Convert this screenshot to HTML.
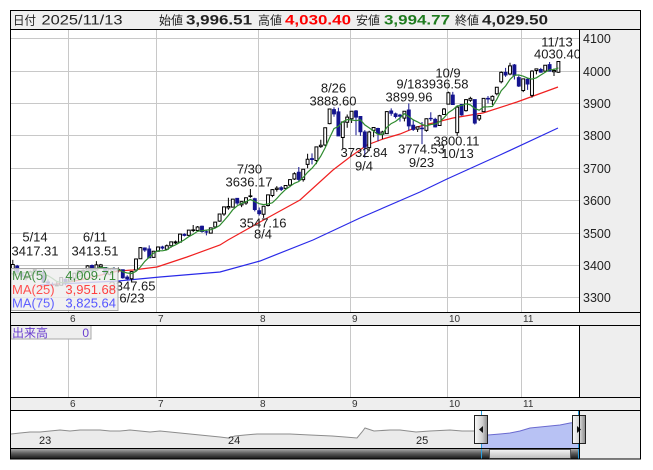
<!DOCTYPE html>
<html><head><meta charset="utf-8">
<style>
html,body{margin:0;padding:0;background:#fff;}
svg{display:block;font-family:"Liberation Sans","Noto Sans CJK JP",sans-serif;}
</style></head>
<body>
<svg width="653" height="470" viewBox="0 0 653 470" xmlns="http://www.w3.org/2000/svg">
<defs>
<clipPath id="cp"><rect x="11" y="30" width="568" height="282"/></clipPath>
<clipPath id="cpn"><rect x="11" y="411" width="568" height="37"/></clipPath>
<linearGradient id="sb" x1="0" y1="0" x2="0" y2="1"><stop offset="0" stop-color="#a8a8a8"/><stop offset="0.45" stop-color="#5a5a5a"/><stop offset="1" stop-color="#151515"/></linearGradient>
<linearGradient id="th" x1="0" y1="0" x2="0" y2="1"><stop offset="0" stop-color="#f6f6f6"/><stop offset="1" stop-color="#bcbcbc"/></linearGradient>
<linearGradient id="hd" x1="0" y1="0" x2="1" y2="0"><stop offset="0" stop-color="#fafafa"/><stop offset="0.6" stop-color="#d0d0d0"/><stop offset="1" stop-color="#8a8a8a"/></linearGradient>
</defs>

<!-- backgrounds -->
<rect x="10" y="10" width="631" height="449" fill="#fff"/>
<rect x="10" y="10" width="631" height="20" fill="#efefef"/>
<rect x="579" y="29" width="62" height="284" fill="#eeeeee"/>
<rect x="579" y="325" width="62" height="73" fill="#eeeeee"/>
<rect x="10" y="312" width="631" height="13" fill="#eeeeee"/>
<rect x="10" y="397" width="631" height="13" fill="#eeeeee"/>
<rect x="579" y="410" width="62" height="49" fill="#eeeeee"/>

<!-- grid -->
<g stroke="#c8c8c8" stroke-width="1">
<path d="M11 38.5H579M11 71.5H579M11 103.5H579M11 135.5H579M11 168.5H579M11 200.5H579M11 233.5H579M11 265.5H579M11 297.5H579"/>
<path d="M68.5 30V312M156.5 30V312M258.5 30V312M350.5 30V312M447.5 30V312M521.5 30V312"/>
<path d="M68.5 326V397M156.5 326V397M258.5 326V397M350.5 326V397M447.5 326V397M521.5 326V397"/>
</g>

<g clip-path="url(#cp)">
<!-- MA75 / MA25 -->
<polyline fill="none" stroke="#2a2ae8" stroke-width="1.2" points="40,285 118,281 160,277 220,272 260,261 313,240 360,218 420,192 447,179 500,155 558,128"/>
<polyline fill="none" stroke="#f02020" stroke-width="1.2" points="40,287 80,280 118,271 133,270 157,267 187,257 220,245 228,240 260,222 300,200 333,170 350,157 367,145 383,139 400,134 417,127 453,118 483,113 517,102 558,87"/>

<g transform="matrix(4.4 0 0 -0.324 70 1367.1)">
<path fill="none" stroke="#000" stroke-width="1" vector-effect="non-scaling-stroke" d="M-13 3372V3417.31M-10 3354V3370M-9 3366V3384M-8 3380V3391M-3 3336V3349M-2 3338V3364M0 3350V3365M1 3359V3378M2 3372V3386M3 3378V3388M4 3384V3401M6 3385V3413.51M7 3393V3405M9 3370V3389M11 3378V3394M14 3347.65V3383M15 3386V3422M16 3420V3457M19 3424V3445M20 3443V3459M22 3449V3465M23 3455V3474M24 3466V3477M25 3471V3497M27 3491V3510M28 3503V3525M29 3506V3522M32 3499V3517M33 3518V3535M34 3535V3560M35 3553V3582M36 3572V3609M37 3580V3605M39 3580V3598M40 3587V3609M41 3609V3636.17M44 3547.16V3584M45 3582V3618M46 3611V3636M47 3628V3645M49 3636V3648M50 3642V3666M51 3664V3688M53 3659V3697M54 3700V3745M56 3713V3767M57 3763V3788M58 3768V3826M59 3836V3884M62 3761V3845M63 3825V3866M64 3840V3876M68 3753V3816M69 3796V3826M71 3790V3816M72 3806V3876M76 3845V3877M79 3812V3829M81 3813V3854M84 3831V3865M85 3865V3886M86 3897V3936.58M88 3800.11V3892M90 3875V3913M91 3905V3921M93 3846V3864M94 3874V3917M96 3895V3925M97 3925V3951M98 3962V3999M100 3987V4025.7M103 3935V3977M105 3918V4003M106 3990V4008M108 3998V4019M110 3985V4008M111 3994.77V4030.4"/>
<path fill="#fff" stroke="#000" stroke-width="1" vector-effect="non-scaling-stroke" d="M-13.33 3374H-12.67V3403H-13.33ZM-10.33 3361H-9.67V3367H-10.33ZM-9.33 3369H-8.67V3381H-9.33ZM-8.33 3383H-7.67V3388H-8.33ZM-3.33 3337H-2.67V3339H-3.33ZM-2.33 3339H-1.67V3363H-2.33ZM-.33 3352H.33V3361H-.33ZM.67 3361H1.33V3376H.67ZM1.67 3376H2.33V3384H1.67ZM2.67 3381H3.33V3385H2.67ZM3.67 3386H4.33V3399H3.67ZM5.67 3386H6.33V3402H5.67ZM6.67 3396H7.33V3402H6.67ZM8.67 3373H9.33V3388H8.67ZM10.67 3386H11.33V3388H10.67ZM13.67 3359H14.33V3381H13.67ZM14.67 3386H15.33V3420H14.67ZM15.67 3421H16.33V3455H15.67ZM18.67 3425H19.33V3444H18.67ZM19.67 3444H20.33V3457H19.67ZM21.67 3450H22.33V3461H21.67ZM22.67 3461H23.33V3473H22.67ZM23.67 3470H24.33V3473H23.67ZM24.67 3472H25.33V3497H24.67ZM26.67 3493H27.33V3509H26.67ZM27.67 3508H28.33V3510H27.67ZM28.67 3508H29.33V3519H28.67ZM31.67 3500H32.33V3516H31.67ZM32.67 3519H33.33V3534H32.67ZM33.67 3537H34.33V3559H33.67ZM34.67 3559H35.33V3581H34.67ZM35.67 3578H36.33V3582H35.67ZM36.67 3580H37.33V3605H36.67ZM38.67 3587H39.33V3597H38.67ZM39.67 3593H40.33V3609H39.67ZM40.67 3613H41.33V3615H40.67ZM43.67 3558H44.33V3583H43.67ZM44.67 3585H45.33V3618H44.67ZM45.67 3616H46.33V3634H45.67ZM46.67 3635H47.33V3639H46.67ZM48.67 3638H49.33V3647H48.67ZM49.67 3648H50.33V3665H49.67ZM50.67 3667H51.33V3683H50.67ZM52.67 3665H53.33V3697H52.67ZM53.67 3712H54.33V3728H53.67ZM55.67 3724H56.33V3766H55.67ZM56.67 3767H57.33V3771H56.67ZM57.67 3772H58.33V3825H57.67ZM58.67 3838H59.33V3883H58.67ZM61.67 3795H62.33V3843H61.67ZM62.67 3842H63.33V3858H62.67ZM63.67 3853H64.33V3876H63.67ZM67.67 3764H68.33V3812H67.67ZM68.67 3817H69.33V3826H68.67ZM70.67 3805H71.33V3812H70.67ZM71.67 3807H72.33V3875H71.67ZM75.67 3855H76.33V3876H75.67ZM78.67 3821H79.33V3828H78.67ZM80.67 3817H81.33V3853H80.67ZM83.67 3832H84.33V3862H83.67ZM84.67 3866H85.33V3883H84.67ZM85.67 3898H86.33V3933H85.67ZM87.67 3810H88.33V3889H87.67ZM89.67 3878H90.33V3912H89.67ZM90.67 3910H91.33V3916H90.67ZM92.67 3852H93.33V3863H92.67ZM93.67 3875H94.33V3916H93.67ZM95.67 3910H96.33V3922H95.67ZM96.67 3930H97.33V3950H96.67ZM97.67 3967H98.33V3996H97.67ZM99.67 3991H100.33V4016H99.67ZM102.67 3940H103.33V3976H102.67ZM104.67 3925H105.33V4000H104.67ZM105.67 4002H106.33V4007H105.67ZM107.67 4000H108.33V4018H107.67ZM109.67 3998H110.33V4002H109.67ZM110.67 3996.51H111.33V4029.5H110.67Z"/>
<path fill="none" stroke="#14148f" stroke-width="1" vector-effect="non-scaling-stroke" d="M-12 3374V3402M-11 3361V3383M-7 3370V3387M-6 3347V3392M-5 3342V3357M-4 3330V3348M-1 3339V3361M5 3368V3403M8 3370V3394M10 3384V3395M12 3359V3387M13 3355V3370M17 3442V3456M18 3423V3462M21 3449V3461M26 3490V3499M30 3501V3523M31 3493V3510M38 3587V3608M42 3567V3609M43 3554V3579M48 3630V3645M52 3660V3704M55 3712V3746M60 3859V3888.6M61 3800V3887M65 3802V3880M66 3800V3861M67 3732.84V3818M70 3783V3825M73 3862V3885M74 3854V3872M75 3844V3868M77 3817V3899.96M78 3815V3848M80 3774.53V3843M82 3846V3873M83 3826V3856M87 3896V3936M89 3862V3898M92 3835V3912M95 3900V3923M99 3982V4010M101 3974V4022M102 3951V3986M104 3942V3979M107 3995V4010M109 3999V4028"/>
<path fill="#14148f" stroke="#14148f" stroke-width="1" vector-effect="non-scaling-stroke" d="M-12.33 3398H-11.67V3380H-12.33ZM-11.33 3378H-10.67V3367H-11.33ZM-7.33 3383H-6.67V3380H-7.33ZM-6.33 3378H-5.67V3348H-6.33ZM-5.33 3349H-4.67V3346H-5.33ZM-4.33 3341H-3.67V3340H-4.33ZM-1.33 3357H-.67V3347H-1.33ZM4.67 3400H5.33V3384H4.67ZM7.67 3394H8.33V3377H7.67ZM9.67 3390H10.33V3387H9.67ZM11.67 3387H12.33V3362H11.67ZM12.67 3364H13.33V3359H12.67ZM16.67 3454H17.33V3448H16.67ZM17.67 3451H18.33V3424H17.67ZM20.67 3457H21.33V3454H20.67ZM25.67 3496H26.33V3493H25.67ZM29.67 3521H30.33V3505H29.67ZM30.67 3504H31.33V3503H30.67ZM37.67 3607H38.33V3593H37.67ZM41.67 3606H42.33V3573H41.67ZM42.67 3569H43.33V3560H42.67ZM47.67 3640H48.33V3635H47.67ZM51.67 3688H52.33V3666H51.67ZM54.67 3730H55.33V3727H54.67ZM59.67 3881H60.33V3868H59.67ZM60.67 3874H61.33V3800H60.67ZM64.67 3877H65.33V3858H64.67ZM65.67 3860H66.33V3813H65.67ZM66.67 3812H67.33V3765H66.67ZM69.67 3823H70.33V3807H69.67ZM72.67 3877H73.33V3870H72.67ZM73.67 3868H74.33V3860H73.67ZM74.67 3864H75.33V3861H74.67ZM76.67 3880H77.33V3831H76.67ZM77.67 3833H78.33V3820H77.67ZM79.67 3824H80.33V3822H79.67ZM81.67 3854H82.33V3853H81.67ZM82.67 3851H83.33V3828H82.67ZM86.67 3926H87.33V3897H86.67ZM88.67 3897H89.33V3865H88.67ZM91.67 3912H92.33V3840H91.67ZM94.67 3916H95.33V3914H94.67ZM98.67 3996H99.33V3988H98.67ZM100.67 4019H101.33V3987H100.67ZM101.67 3980H102.33V3954H101.67ZM103.67 3975H104.33V3960H103.67ZM106.67 4005H107.33V3997H106.67ZM108.67 4020H109.33V4000H108.67Z"/>
<polyline fill="none" stroke="#2e8b2e" stroke-width="1.2" vector-effect="non-scaling-stroke" points="-13,3368 -12,3373.6 -11,3378.6 -10,3378.2 -9,3379.6 -8,3376.6 -7,3376.6 -6,3372.8 -5,3368.6 -4,3360.4 -3,3350.6 -2,3347.2 -1,3347 0,3350 1,3357.2 2,3366.2 3,3370.6 4,3381 5,3385.6 6,3390.8 7,3394.4 8,3392.8 9,3390.6 10,3391.2 11,3388.4 12,3380.4 13,3376.8 14,3375.4 15,3382 16,3395.4 17,3412.6 18,3425.6 19,3438.2 20,3445.6 21,3445.4 22,3448 23,3457.8 24,3463.6 25,3471.6 26,3479.4 27,3489 28,3496.4 29,3505.6 30,3507.2 31,3509.2 32,3510.6 33,3515.4 34,3523.4 35,3538.6 36,3554.4 37,3572.2 38,3584 39,3591.6 40,3597.2 41,3603.8 42,3597.4 43,3590.8 44,3588 45,3589.8 46,3593.6 47,3606.8 48,3621.8 49,3634.6 50,3644 51,3653.8 52,3659.2 53,3671.6 54,3687.8 55,3700.2 56,3716.8 57,3737.8 58,3763.4 59,3794.4 60,3822.6 61,3829.4 62,3843.8 63,3850.4 64,3849 65,3847 66,3849.6 67,3834 68,3824.8 69,3814.8 70,3804.6 71,3804.4 72,3826.4 73,3838 74,3844.8 75,3855.6 76,3868.4 77,3859.6 78,3849.6 79,3843.2 80,3835.4 81,3830.8 82,3835.2 83,3836.8 84,3843.6 85,3855.8 86,3871.8 87,3880.6 88,3892.8 89,3893.4 90,3899.2 91,3895.8 92,3884.4 93,3879.2 94,3889.4 95,3889.8 96,3891 97,3913 98,3939.6 99,3954 100,3974.4 101,3987.4 102,3988.2 103,3984.2 104,3978.6 105,3975.4 106,3979.4 107,3988 108,3996.4 109,4004.4 110,4004.8 111,4009.7"/>
</g>

<!-- annotations -->
<g font-size="13" fill="#1a1a1a" text-anchor="middle">
<text x="35" y="241.5">5/14</text><text x="35" y="255.5">3417.31</text>
<text x="95" y="241.5">6/11</text><text x="95" y="255.5">3413.51</text>
<text x="132" y="290.5">3347.65</text><text x="132" y="302.5">6/23</text>
<text x="249.5" y="173.5">7/30</text><text x="249" y="186.5">3636.17</text>
<text x="263" y="227.5">3547.16</text><text x="263" y="238.5">8/4</text>
<text x="333.5" y="92.5">8/26</text><text x="333" y="105.5">3888.60</text>
<text x="364" y="157">3732.84</text><text x="364" y="170.5">9/4</text>
<text x="409" y="88.5">9/18</text><text x="409" y="101.5">3899.96</text>
<text x="448" y="77.5">10/9</text><text x="445" y="88.5">3936.58</text>
<text x="421.5" y="153.5">3774.53</text><text x="421.5" y="167">9/23</text>
<text x="456.5" y="145.5">3800.11</text><text x="457.5" y="158">10/13</text>
<text x="557" y="46.5">11/13</text><text x="557.5" y="58.5">4030.40</text>
</g>
</g>

<!-- MA legend -->
<rect x="11" y="268.5" width="107" height="42" fill="#eeeeee" fill-opacity="0.82" stroke="#a8a8a8" stroke-width="1"/>
<g font-size="13">
<text x="12" y="280" fill="#4a904a">MA(5)</text><text x="116" y="280" fill="#3a8a3a" text-anchor="end">4,009.71</text>
<text x="12" y="294" fill="#ff5050">MA(25)</text><text x="116" y="294" fill="#ff4040" text-anchor="end">3,951.68</text>
<text x="12" y="307.5" fill="#6060ff">MA(75)</text><text x="116" y="307.5" fill="#5555ff" text-anchor="end">3,825.64</text>
</g>

<!-- volume label -->
<rect x="11" y="325.5" width="80" height="13.5" fill="#eeeeee" stroke="#a8a8a8" stroke-width="1"/>
<text x="12" y="337" font-size="12" fill="#6a3fd0">出来高</text>
<text x="89" y="337" font-size="12" fill="#6a3fd0" text-anchor="end">0</text>

<!-- right axis labels -->
<g font-size="12.5" fill="#222">
<text x="583" y="43">4100</text><text x="583" y="76">4000</text><text x="583" y="108">3900</text>
<text x="583" y="140">3800</text><text x="583" y="173">3700</text><text x="583" y="205">3600</text>
<text x="583" y="238">3500</text><text x="583" y="270">3400</text><text x="583" y="302">3300</text>
</g>

<!-- date strips -->
<g font-size="10" fill="#333">
<text x="70" y="322">6</text><text x="158" y="322">7</text><text x="260" y="322">8</text><text x="352" y="322">9</text><text x="449" y="322">10</text><text x="523" y="322">11</text>
<text x="70" y="407">6</text><text x="158" y="407">7</text><text x="260" y="407">8</text><text x="352" y="407">9</text><text x="449" y="407">10</text><text x="523" y="407">11</text>
</g>

<!-- navigator -->
<g clip-path="url(#cpn)">
<path fill="#ebebeb" stroke="none" d="M11 434L20 433L30 432L40 432L50 431L60 430L70 431L80 430L90 430L100 430L110 431L120 431L130 430L140 431L150 432L160 431L170 432L180 433L190 434L200 435L210 436L220 437L228 438L235 436L245 435L257 434L270 434L290 434L310 435L332 436L345 437L357 438L362 432L365 428L368 429L374 431L390 430L400 430L416 432L430 431L450 430L462 431L474 431L481 432L481 448L11 448Z"/>
<polyline fill="none" stroke="#8c8c8c" stroke-width="1" points="11,434 20,433 30,432 40,432 50,431 60,430 70,431 80,430 90,430 100,430 110,431 120,431 130,430 140,431 150,432 160,431 170,432 180,433 190,434 200,435 210,436 220,437 228,438 235,436 245,435 257,434 270,434 290,434 310,435 332,436 345,437 357,438 362,432 365,428 368,429 374,431 390,430 400,430 416,432 430,431 450,430 462,431 474,431 481,432"/>
<path fill="#b8c2f4" stroke="none" d="M481 435L488 435L500 434L510 433L520 431L530 428L540 427L550 426L560 425L570 423L579 422L579 448L481 448Z"/>
<polyline fill="none" stroke="#6a6ad0" stroke-width="1" points="481,435 488,435 500,434 510,433 520,431 530,428 540,427 550,426 560,425 570,423 579,422"/>
</g>
<g font-size="11" fill="#222">
<text x="39" y="444">23</text><text x="228" y="444">24</text><text x="416" y="444">25</text>
</g>

<!-- scrollbar -->
<rect x="11" y="449" width="568" height="10" fill="url(#sb)"/>
<rect x="489.5" y="449.5" width="81" height="9" fill="url(#th)" stroke="#555" stroke-width="1"/>

<!-- selection lines -->
<path d="M481.5 410V459M578.5 410V459" stroke="#2aa0e0" stroke-width="1"/>

<!-- handles -->
<rect x="474.5" y="415.5" width="13" height="28" fill="url(#hd)" stroke="#222" stroke-width="1"/>
<polygon points="479,429.5 483,426 483,433" fill="#111"/>
<rect x="572.5" y="415.5" width="13" height="28" fill="url(#hd)" stroke="#222" stroke-width="1"/>
<polygon points="577,426 581,429.5 577,433" fill="#111"/>

<!-- borders -->
<g stroke="#000" stroke-width="1" fill="none">
<rect x="10.5" y="10.5" width="630" height="448.5"/>
<path d="M10 29.5H641M10 312.5H641M10 325.5H641M10 397.5H641M10 410.5H641M10 448.5H579"/>
<path d="M579.5 29V313M579.5 325V398M579.5 410V459"/>
</g>

<!-- header -->
<g fill="#222">
<text x="13" y="24.5" font-size="12" textLength="23" lengthAdjust="spacingAndGlyphs">日付</text>
<text x="41.5" y="24.5" font-size="14" textLength="81" lengthAdjust="spacingAndGlyphs">2025/11/13</text>
<text x="159" y="24.5" font-size="12" textLength="24" lengthAdjust="spacingAndGlyphs">始値</text>
<text x="186" y="24.5" font-size="14" font-weight="bold" textLength="66" lengthAdjust="spacingAndGlyphs">3,996.51</text>
<text x="258" y="24.5" font-size="12" textLength="24" lengthAdjust="spacingAndGlyphs">高値</text>
<text x="285" y="24.5" font-size="14" font-weight="bold" fill="#ff0000" textLength="66" lengthAdjust="spacingAndGlyphs">4,030.40</text>
<text x="356" y="24.5" font-size="12" textLength="24" lengthAdjust="spacingAndGlyphs">安値</text>
<text x="384" y="24.5" font-size="14" font-weight="bold" fill="#1e7b1e" textLength="66" lengthAdjust="spacingAndGlyphs">3,994.77</text>
<text x="455" y="24.5" font-size="12" textLength="24" lengthAdjust="spacingAndGlyphs">終値</text>
<text x="482" y="24.5" font-size="14" font-weight="bold" textLength="66" lengthAdjust="spacingAndGlyphs">4,029.50</text>
</g>
</svg>
</body></html>
